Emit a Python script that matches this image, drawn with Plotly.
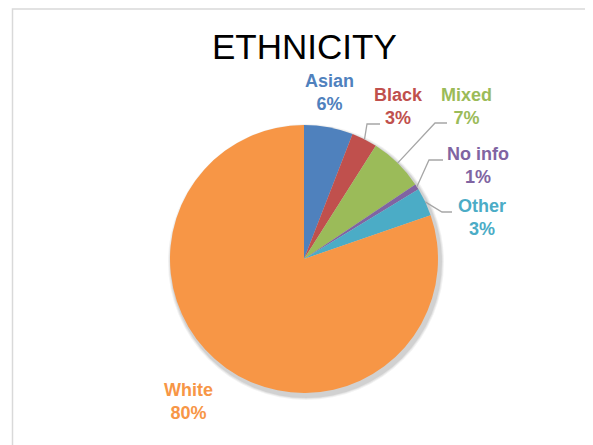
import math
import plotly.graph_objects as go

# ---- data ----
categories = ["Asian", "Black", "Mixed", "No info", "Other", "White"]
values = [5.9, 3.1, 6.6, 0.7, 3.4, 80.3]
colors = ["#4F81BD", "#C0504D", "#9BBB59", "#8064A2", "#4BACC6", "#F79646"]
title_text = "ETHNICITY"

# ---- layout constants (window pixels; page body has an 8px margin) ----
W, H = 593, 445
OFF = 8
FW, FH = W - OFF, H - OFF
CX, CY, R = 304, 259, 134

# label placement: centre of text block, optional leader elbow/end
label_layout = {
    "Asian":   dict(x=329, y=92),
    "Black":   dict(x=398, y=106, elbow=(367, 124), end=(380, 124)),
    "Mixed":   dict(x=466, y=106, elbow=(435, 123), end=(447, 123)),
    "No info": dict(x=478, y=165, elbow=(429, 160), end=(443, 160)),
    "Other":   dict(x=482, y=217, elbow=(442, 212), end=(452, 212)),
    "White":   dict(x=188, y=401),
}

fig = go.Figure()

fig.add_trace(go.Pie(
    labels=categories,
    values=values,
    marker=dict(colors=colors, line=dict(width=0)),
    sort=False,
    direction="clockwise",
    rotation=0,
    textinfo="none",
    hoverinfo="label+percent",
    showlegend=False,
    domain=dict(x=[(CX - R - OFF) / FW, (CX + R - OFF) / FW],
                y=[1 - (CY + R - OFF) / FH, 1 - (CY - R - OFF) / FH]),
))

shapes = []
# soft shadow behind pie
for i, op in [(4, 0.05), (3, 0.06), (2, 0.08)]:
    shapes.append(dict(type="circle", xref="x", yref="y", layer="below",
                       x0=CX + 2 - R - i, x1=CX + 2 + R + i,
                       y0=CY + 3 - R - i, y1=CY + 3 + R + i,
                       fillcolor=f"rgba(0,0,0,{op})", line=dict(width=0)))
# chart frame
shapes.append(dict(type="rect", xref="x", yref="y", x0=12.5, y0=OFF + 1, x1=W + 5, y1=H + 5,
                   line=dict(color="#D9D9D9", width=1.5), fillcolor="rgba(0,0,0,0)"))

annotations = []
total = sum(values)
cum = 0.0
for cat, v, col in zip(categories, values, colors):
    mid = (cum + v / 2) / total * 2 * math.pi
    cum += v
    pct = round(v / total * 100)
    lay = label_layout[cat]
    annotations.append(dict(
        x=lay["x"], y=lay["y"], xref="x", yref="y",
        text=f"{cat}<br>{pct}%", showarrow=False,
        xanchor="center", yanchor="middle",
        font=dict(family="Liberation Sans, Arial, sans-serif", size=18, color=col, weight="bold"),
    ))
    if "elbow" in lay:
        sx = CX + R * math.sin(mid)
        sy = CY - R * math.cos(mid)
        ex, ey = lay["elbow"]
        tx, ty = lay["end"]
        shapes.append(dict(type="path", xref="x", yref="y",
                           path=f"M {sx:.1f},{sy:.1f} L {ex},{ey} L {tx},{ty}",
                           line=dict(color="#A6A6A6", width=1.3)))

annotations.append(dict(
    x=304, y=46, xref="x", yref="y", text=title_text, showarrow=False,
    xanchor="center", yanchor="middle",
    font=dict(family="Liberation Sans, Arial, sans-serif", size=35, color="#000000"),
))

fig.update_layout(
    width=FW, height=FH,
    margin=dict(l=0, r=0, t=0, b=0),
    paper_bgcolor="white", plot_bgcolor="rgba(0,0,0,0)",
    xaxis=dict(range=[OFF, W], visible=False, fixedrange=True, domain=[0, 1]),
    yaxis=dict(range=[H, OFF], visible=False, fixedrange=True, domain=[0, 1]),
    shapes=shapes,
    annotations=annotations,
)

fig.write_html("out.html")
